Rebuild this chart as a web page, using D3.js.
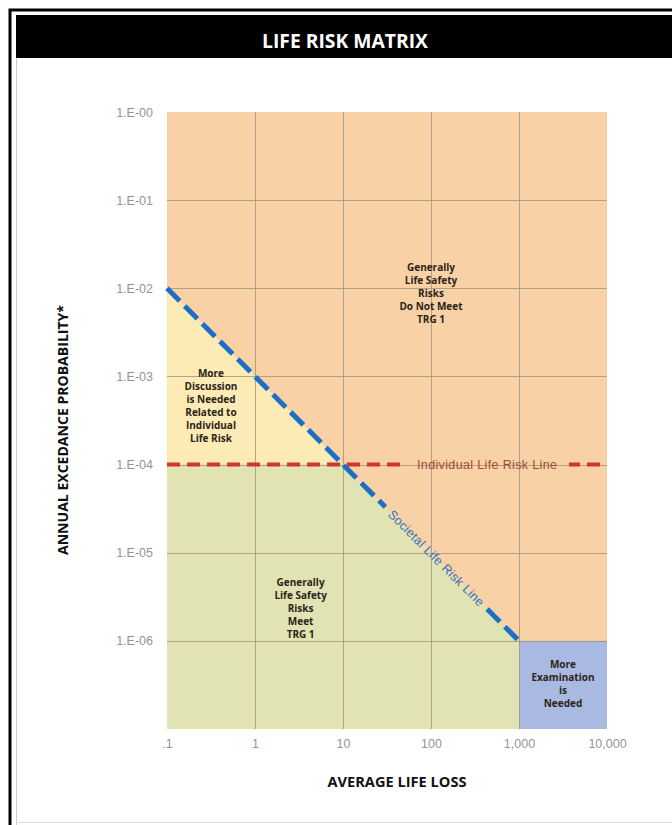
<!DOCTYPE html>
<html><head><meta charset="utf-8">
<script src="https://cdn.jsdelivr.net/npm/d3@7"></script>
<style>
html,body{margin:0;padding:0;background:#fff;}
svg{display:block;}
</style></head>
<body>
<script>
// ---- data ----
const xTicks = [0.1, 1, 10, 100, 1000, 10000];
const xTickLabels = [".1", "1", "10", "100", "1,000", "10,000"];
const yTicks = [1, 1e-1, 1e-2, 1e-3, 1e-4, 1e-5, 1e-6];
const yTickLabels = ["1.E-00", "1.E-01", "1.E-02", "1.E-03", "1.E-04", "1.E-05", "1.E-06"];
const xDomain = [0.1, 10000];
const yDomain = [1e-7, 1];
const societalLine = [[0.1, 1e-2], [1000, 1e-6]];
const individualLine = [[0.1, 1e-4], [10000, 1e-4]];
const regionOrange = [[0.1, 1], [10000, 1], [10000, 1e-7], [0.1, 1e-7]];
const regionYellow = [[0.1, 1e-2], [10, 1e-4], [0.1, 1e-4]];
const regionGreen = [[0.1, 1e-4], [10, 1e-4], [1000, 1e-6], [1000, 1e-7], [0.1, 1e-7]];
const regionBlue = [[1000, 1e-6], [10000, 1e-6], [10000, 1e-7], [1000, 1e-7]];
const regionLabels = [
  {x: 100, y: 8.8e-3, lines: ["Generally", "Life Safety", "Risks", "Do Not Meet", "TRG 1"]},
  {x: 0.316, y: 4.6e-4, lines: ["More", "Discussion", "is Needed", "Related to", "Individual", "Life Risk"]},
  {x: 3.3, y: 2.3e-6, lines: ["Generally", "Life Safety", "Risks", "Meet", "TRG 1"]},
  {x: 3160, y: 3.2e-7, lines: ["More", "Examination", "is", "Needed"]}
];

// ---- layout ----
const W = 672, H = 825;
const svg = d3.select("body").append("svg").attr("width", W).attr("height", H);
const x = d3.scaleLog().domain(xDomain).range([167, 607]);
const y = d3.scaleLog().domain(yDomain).range([729, 112]);
const fontTick = "'Liberation Sans', Arial, sans-serif";
const fontBold = "'Open Sans', 'DejaVu Sans', sans-serif";

// frame
svg.append("rect").attr("x", 0).attr("y", 0).attr("width", W).attr("height", H).attr("fill", "#fff");
svg.append("path").attr("d", `M10,${H} V10 H${W}`).attr("fill", "none").attr("stroke", "#000").attr("stroke-width", 3);
svg.append("path").attr("d", `M16.5,${H} V15`).attr("fill", "none").attr("stroke", "#ccc").attr("stroke-width", 1);
svg.append("line").attr("x1", 16).attr("x2", W).attr("y1", 822.5).attr("y2", 822.5).attr("stroke", "#ddd");
svg.append("rect").attr("x", 16).attr("y", 15).attr("width", W - 16).attr("height", 43).attr("fill", "#000");
svg.append("text").attr("x", 345).attr("y", 47.5).attr("text-anchor", "middle")
  .attr("fill", "#fff").attr("font-family", fontBold).attr("font-weight", "bold")
  .attr("font-size", 19).attr("textLength", 166).attr("lengthAdjust", "spacingAndGlyphs").text("LIFE RISK MATRIX");

// regions
const line = d3.line().x(d => x(d[0])).y(d => y(d[1]));
const poly = pts => line(pts) + "Z";
svg.append("path").attr("d", poly(regionOrange)).attr("fill", "#f9d1a6");
svg.append("path").attr("d", poly(regionYellow)).attr("fill", "#fdebb6");
svg.append("path").attr("d", poly(regionGreen)).attr("fill", "#e1e3b3");
svg.append("path").attr("d", poly(regionBlue)).attr("fill", "#a9b9e2");

// grid
const g = svg.append("g");
g.selectAll(".vx").data(xTicks.slice(1, -1)).join("line")
  .attr("x1", d => Math.round(x(d)) + 0.5).attr("x2", d => Math.round(x(d)) + 0.5)
  .attr("y1", y(yDomain[1])).attr("y2", y(yDomain[0]))
  .attr("stroke", "#a39478").attr("stroke-width", 1).attr("opacity", 0.8);
g.selectAll(".hy").data(yTicks.slice(1)).join("line")
  .attr("y1", d => Math.round(y(d)) + 0.5).attr("y2", d => Math.round(y(d)) + 0.5)
  .attr("x1", x(xDomain[0])).attr("x2", x(xDomain[1]))
  .attr("stroke", "#a39478").attr("stroke-width", 1).attr("opacity", 0.8);

// axes (tick labels only)
const xAxis = d3.axisBottom(x).tickValues(xTicks).tickFormat((d, i) => xTickLabels[i]).tickSize(0).tickPadding(10);
const gx = svg.append("g").attr("transform", `translate(0,${y(yDomain[0])})`).call(xAxis);
gx.select(".domain").remove();
gx.selectAll("text").attr("font-family", fontTick).attr("font-size", 12.5).attr("fill", "#949494");

const yAxis = d3.axisLeft(y).tickValues(yTicks).tickFormat((d, i) => yTickLabels[i]).tickSize(0).tickPadding(14);
const gy = svg.append("g").attr("transform", `translate(${x(xDomain[0])},0)`).call(yAxis);
gy.select(".domain").remove();
gy.selectAll("text").attr("font-family", fontTick).attr("font-size", 12.5).attr("fill", "#949494");

// individual life risk line (with gap for label)
const indLabelX = 487, indGapHalf = 82;
const iy = y(individualLine[0][1]);
const clipInd = svg.append("defs").append("clipPath").attr("id", "clipInd");
clipInd.append("rect").attr("x", 0).attr("y", 0).attr("width", indLabelX - indGapHalf).attr("height", H);
clipInd.append("rect").attr("x", indLabelX + indGapHalf).attr("y", 0).attr("width", W).attr("height", H);
svg.append("path").attr("d", line(individualLine)).attr("clip-path", "url(#clipInd)")
  .attr("stroke", "#d2352b").attr("stroke-width", 4).attr("fill", "none").attr("stroke-dasharray", "13,7");
svg.append("text").attr("x", indLabelX).attr("y", iy + 4.5).attr("text-anchor", "middle")
  .attr("font-family", fontTick).attr("font-size", 12.5).attr("fill", "#9c4a3a").attr("textLength", 140)
  .text("Individual Life Risk Line");

// societal life risk line (with gap for label)
const sx0 = x(societalLine[0][0]), sy0 = y(societalLine[0][1]);
const sx1 = x(societalLine[1][0]), sy1 = y(societalLine[1][1]);
const ang = Math.atan2(sy1 - sy0, sx1 - sx0) * 180 / Math.PI;
const len = Math.hypot(sx1 - sx0, sy1 - sy0);
const labelT = 0.765;
const gapHalf = 72;
const sg = svg.append("g").attr("transform", `translate(${sx0},${sy0}) rotate(${ang})`);
const dLab = len * labelT;
sg.append("line").attr("x1", 0).attr("x2", dLab - gapHalf).attr("y1", 0).attr("y2", 0)
  .attr("stroke", "#1b6fc4").attr("stroke-width", 5).attr("stroke-dasharray", "18,7");
sg.append("line").attr("x1", dLab + gapHalf).attr("x2", len).attr("y1", 0).attr("y2", 0)
  .attr("stroke", "#1b6fc4").attr("stroke-width", 5).attr("stroke-dasharray", "18,7");
sg.append("text").attr("x", dLab).attr("y", 4.5).attr("text-anchor", "middle")
  .attr("font-family", fontTick).attr("font-size", 12.5).attr("fill", "#3a6cc0").attr("textLength", 130)
  .text("Societal Life Risk Line");

// region labels
regionLabels.forEach(r => {
  const t = svg.append("text").attr("x", x(r.x)).attr("y", y(r.y)).attr("text-anchor", "middle")
    .attr("font-family", fontBold).attr("font-weight", "bold").attr("font-size", 10).attr("fill", "#2a2418");
  const n = r.lines.length;
  r.lines.forEach((l, i) => {
    t.append("tspan").attr("x", x(r.x)).attr("dy", i === 0 ? (-(n - 1) / 2 * 13 + 3.5) : 13).text(l);
  });
});

// axis titles
svg.append("text").attr("x", 397).attr("y", 787).attr("text-anchor", "middle")
  .attr("font-family", fontBold).attr("font-weight", "bold").attr("font-size", 13.5).attr("fill", "#111")
  .attr("textLength", 139).attr("lengthAdjust", "spacingAndGlyphs")
  .text("AVERAGE LIFE LOSS");
svg.append("text").attr("transform", "translate(68,430) rotate(-90)").attr("text-anchor", "middle")
  .attr("font-family", fontBold).attr("font-weight", "bold").attr("font-size", 13.5).attr("fill", "#111")
  .attr("textLength", 250).attr("lengthAdjust", "spacingAndGlyphs")
  .text("ANNUAL EXCEDANCE PROBABILITY*");
</script>
</body></html>
